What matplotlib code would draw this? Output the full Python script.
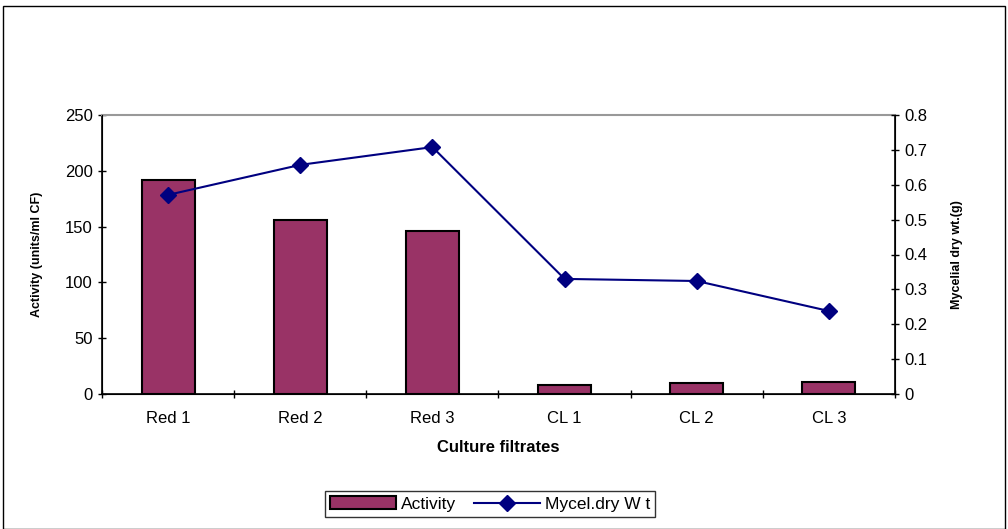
import numpy as np
import matplotlib
matplotlib.use("Agg")
import matplotlib.pyplot as plt
from matplotlib.patches import Rectangle

plt.rcParams['font.family'] = ['Liberation Sans', 'DejaVu Sans']

categories = ["Red 1", "Red 2", "Red 3", "CL 1", "CL 2", "CL 3"]
activity = [192, 156, 146, 8, 10, 11]
mycel_dry_wt = [0.571, 0.657, 0.708, 0.330, 0.324, 0.238]

bar_color = "#993366"
line_color = "#000080"

fig = plt.figure(figsize=(10.08, 5.29), dpi=100)
ax = fig.add_axes([102/1008, 1 - 394/529, (895-102)/1008, (394-115)/529])

x = np.arange(len(categories))
ax.bar(x, activity, width=0.4, color=bar_color, edgecolor="black", linewidth=1.5,
       label="Activity", zorder=2)
ax.set_xlim(-0.5, len(categories) - 0.5)
ax.set_ylim(0, 250)
ax.set_yticks(np.arange(0, 251, 50))
ax.set_xticks(x)
ax.set_xticklabels(categories)
ax.set_xticks(np.arange(-0.5, len(categories), 1), minor=True)
ax.tick_params(axis="x", which="major", length=0, labelsize=12, pad=12)
ax.tick_params(axis="x", which="minor", length=6, direction="inout", width=1)
ax.tick_params(axis="y", length=6, direction="inout", labelsize=12, width=1)
ax.set_xlabel("Culture filtrates", fontsize=12, fontweight="bold", labelpad=10)
ax.set_ylabel("Activity (units/ml CF)", fontsize=9, fontweight="bold", labelpad=16)
for s in ["left", "bottom", "right"]:
    ax.spines[s].set_color("black")
    ax.spines[s].set_linewidth(1.2)
ax.spines["top"].set_color("#999999")
ax.spines["top"].set_linewidth(1.5)

ax2 = ax.twinx()
ax2.plot(x, mycel_dry_wt, color=line_color, linewidth=1.5, marker="D",
         markersize=8, label="Mycel.dry W t", zorder=3)
ax2.set_ylim(0, 0.8)
ax2.set_yticks(np.arange(0, 0.81, 0.1))
ax2.set_yticklabels(["0"] + [f"{v:.1f}" for v in np.arange(0.1, 0.81, 0.1)])
ax2.tick_params(axis="y", length=6, direction="inout", labelsize=12, width=1)
ax2.set_ylabel("Mycelial dry wt.(g)", fontsize=9, fontweight="bold", labelpad=17)
ax2.spines["top"].set_visible(False)

h1, l1 = ax.get_legend_handles_labels()
h2, l2 = ax2.get_legend_handles_labels()
fig.legend(h1 + h2, l1 + l2, loc="center", bbox_to_anchor=(490/1008, 1 - 504/529),
           ncol=2, frameon=True, fancybox=False, edgecolor="black", fontsize=12.5,
           handlelength=3.8, columnspacing=1.0, handletextpad=0.3, borderpad=0.3)

fig.patches.append(Rectangle((3/1008, 0), 1 - 6/1008, 1 - 6/529, transform=fig.transFigure,
                             fill=False, edgecolor="black", linewidth=1))

fig.savefig("out.png", dpi=100)
